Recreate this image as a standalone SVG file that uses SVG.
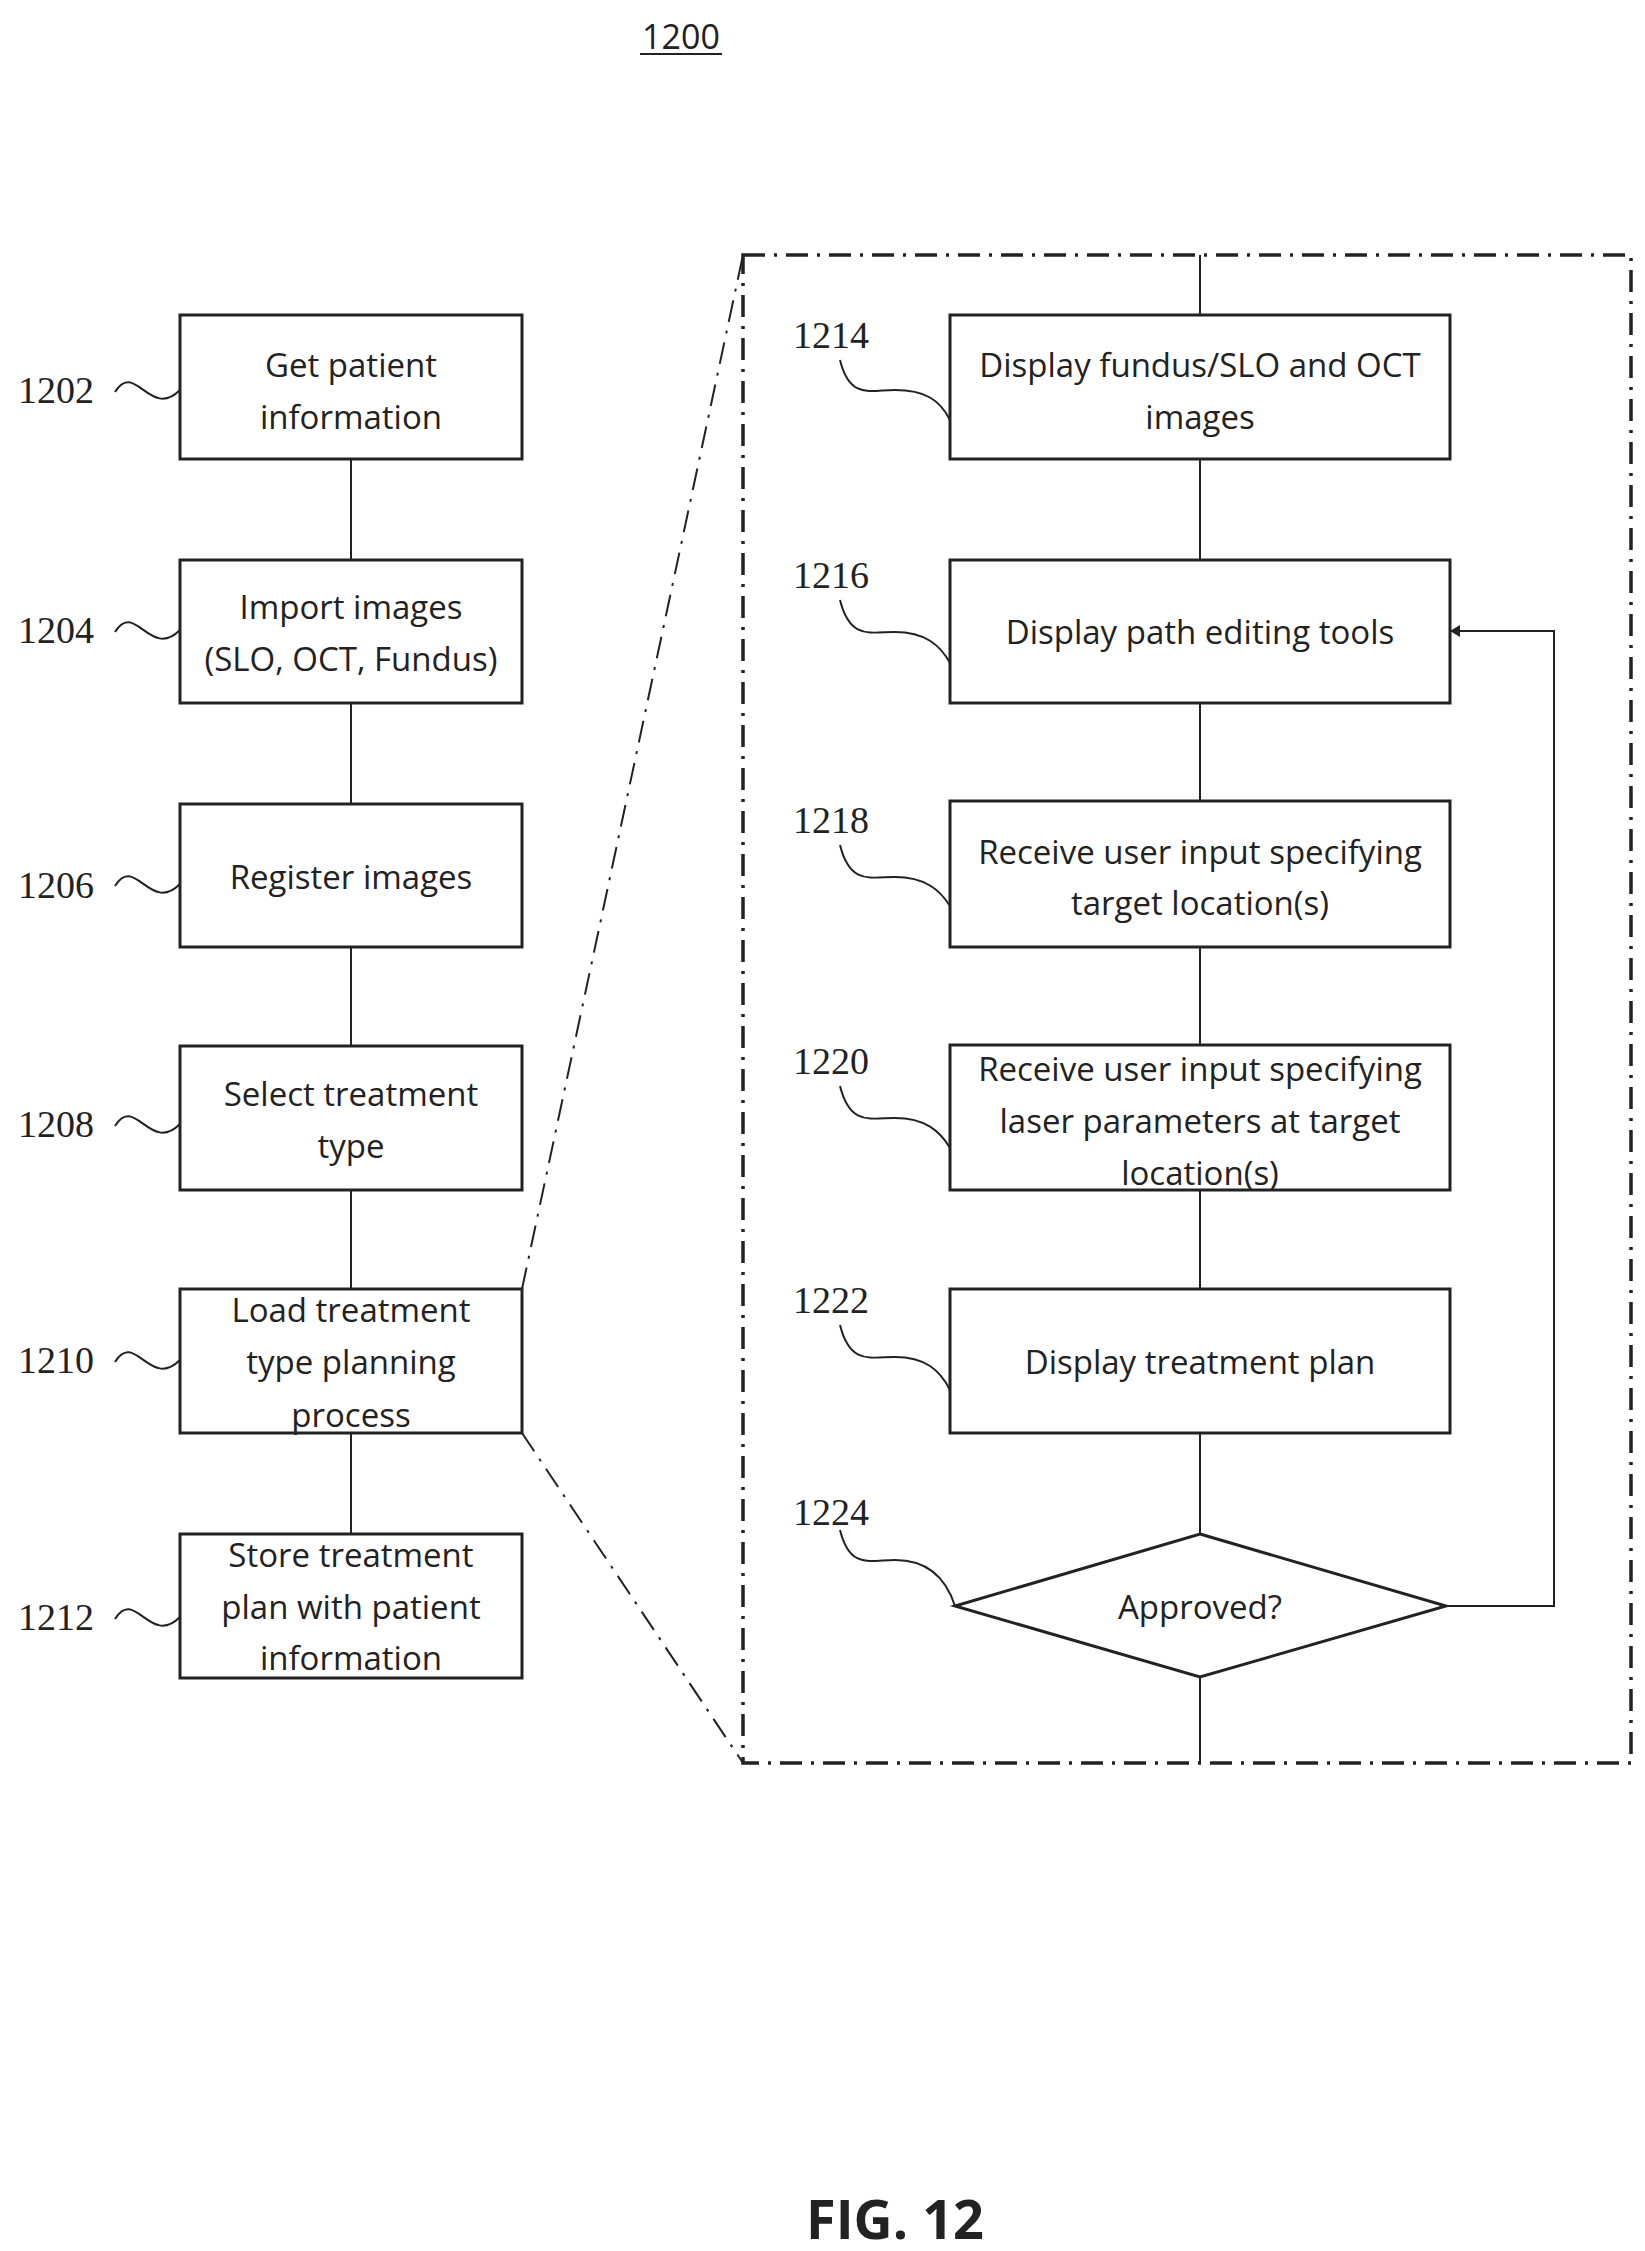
<svg xmlns="http://www.w3.org/2000/svg" width="1645" height="2251" viewBox="0 0 1645 2251">
<style>
text{font-family:"Open Sans","Liberation Sans",sans-serif;font-size:33px;fill:#222;text-anchor:middle;dominant-baseline:central}
.lbl{font-family:"Liberation Serif",serif;font-size:38px;text-anchor:start}
.box{fill:#fff;stroke:#222;stroke-width:3}
.ln{fill:none;stroke:#222;stroke-width:2}
.dd{fill:none;stroke:#222;stroke-width:3.5;stroke-dasharray:22 9 3 9}
.dd2{fill:none;stroke:#222;stroke-width:2;stroke-dasharray:22 9 3 9}
</style>
<defs><marker id="ah" markerWidth="12" markerHeight="12" refX="10" refY="6" orient="auto" markerUnits="userSpaceOnUse"><path d="M0,0 L10,6 L0,12 z" fill="#222"/></marker></defs>
<rect x="0" y="0" width="1645" height="2251" fill="#fff"/>
<text x="681" y="36" style="font-size:34px">1200</text>
<line x1="640" y1="54" x2="722" y2="54" class="ln"/>
<g id="frame">
<rect x="743" y="255" width="888" height="1508" class="dd"/>
<path d="M522,1289 L743,255 M522,1433 L743,1763" class="dd2"/>
</g>
<g id="connectors">
<path d="M351,459V560 M351,703V804 M351,947V1046 M351,1190V1289 M351,1433V1534 M1200,255V315 M1200,459V560 M1200,703V801 M1200,947V1045 M1200,1190V1289 M1200,1433V1534 M1200,1677V1763 M1446,1606H1554V631H1450" class="ln" marker-end="url(#ah)"/>
</g>
<g id="n1202"><rect class="box" x="180" y="315" width="342" height="144"/><text x="351" y="364">Get patient</text><text x="351" y="416">information</text><text class="lbl" x="18" y="390">1202</text><path class="ln" d="M115,392 C135,360 150,420 180,390"/></g>
<g id="n1204"><rect class="box" x="180" y="560" width="342" height="143"/><text x="351" y="606">Import images</text><text x="351" y="658">(SLO, OCT, Fundus)</text><text class="lbl" x="18" y="630">1204</text><path class="ln" d="M115,632 C135,600 150,660 180,630"/></g>
<g id="n1206"><rect class="box" x="180" y="804" width="342" height="143"/><text x="351" y="876">Register images</text><text class="lbl" x="18" y="885">1206</text><path class="ln" d="M115,886 C135,854 150,914 180,884"/></g>
<g id="n1208"><rect class="box" x="180" y="1046" width="342" height="144"/><text x="351" y="1093">Select treatment</text><text x="351" y="1145">type</text><text class="lbl" x="18" y="1124">1208</text><path class="ln" d="M115,1126 C135,1094 150,1154 180,1124"/></g>
<g id="n1210"><rect class="box" x="180" y="1289" width="342" height="144"/><text x="351" y="1309">Load treatment</text><text x="351" y="1361">type planning</text><text x="351" y="1414">process</text><text class="lbl" x="18" y="1360">1210</text><path class="ln" d="M115,1362 C135,1330 150,1390 180,1360"/></g>
<g id="n1212"><rect class="box" x="180" y="1534" width="342" height="144"/><text x="351" y="1554">Store treatment</text><text x="351" y="1606">plan with patient</text><text x="351" y="1657">information</text><text class="lbl" x="18" y="1617">1212</text><path class="ln" d="M115,1619 C135,1587 150,1647 180,1617"/></g>
<g id="n1214"><rect class="box" x="950" y="315" width="500" height="144"/><text x="1200" y="364">Display fundus/SLO and OCT</text><text x="1200" y="416">images</text><text class="lbl" x="793" y="335">1214</text><path class="ln" d="M840,360 C850,400 870,390 895,390 C925,390 940,400 950,420"/></g>
<g id="n1216"><rect class="box" x="950" y="560" width="500" height="143"/><text x="1200" y="631">Display path editing tools</text><text class="lbl" x="793" y="575">1216</text><path class="ln" d="M840,600 C850,640 870,632 895,632 C925,632 940,645 950,663"/></g>
<g id="n1218"><rect class="box" x="950" y="801" width="500" height="146"/><text x="1200" y="851">Receive user input specifying</text><text x="1200" y="902">target location(s)</text><text class="lbl" x="793" y="820">1218</text><path class="ln" d="M840,845 C850,885 870,877 895,877 C925,877 940,890 950,906"/></g>
<g id="n1220"><rect class="box" x="950" y="1045" width="500" height="145"/><text x="1200" y="1068">Receive user input specifying</text><text x="1200" y="1120">laser parameters at target</text><text x="1200" y="1172">location(s)</text><text class="lbl" x="793" y="1061">1220</text><path class="ln" d="M840,1086 C850,1126 870,1118 895,1118 C925,1118 940,1131 950,1148"/></g>
<g id="n1222"><rect class="box" x="950" y="1289" width="500" height="144"/><text x="1200" y="1361">Display treatment plan</text><text class="lbl" x="793" y="1300">1222</text><path class="ln" d="M840,1325 C850,1365 870,1357 895,1357 C925,1357 940,1370 950,1390"/></g>
<g id="n1224"><path class="box" d="M1200,1534 L1446,1606 L1200,1677 L955,1606 z"/><text x="1200" y="1606">Approved?</text><text class="lbl" x="793" y="1512">1224</text><path class="ln" d="M840,1530 C850,1570 870,1560 895,1560 C925,1560 945,1575 955,1606"/></g>
<text x="895" y="2218" style="font-size:54px;font-weight:bold">FIG.    12</text>
</svg>
